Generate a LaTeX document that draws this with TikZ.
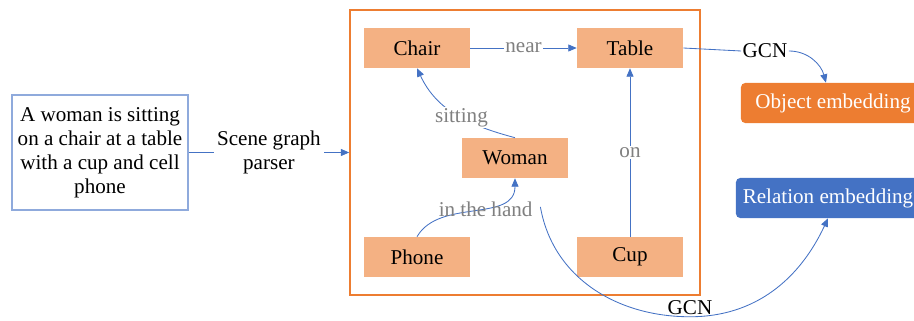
\documentclass[tikz,border=0pt]{standalone}
\usepackage{fontspec}
\setmainfont{Liberation Serif}
\usetikzlibrary{arrows.meta}

\definecolor{objfill}{HTML}{F4B183}
\definecolor{frameorange}{HTML}{ED7D31}
\definecolor{linkblue}{HTML}{4472C4}
\definecolor{boxblue}{HTML}{8FAADC}
\definecolor{relgray}{HTML}{808080}

\begin{document}
\begin{tikzpicture}[x=0.025cm, y=0.025cm, >={Triangle[length=6pt,width=5pt]},
  font=\fontsize{15}{17}\selectfont,
  obj/.style={fill=objfill, minimum width=2.65cm, minimum height=1cm},
  rel/.style={text=relgray, fill=white, inner sep=1pt},
  link/.style={draw=linkblue, line width=0.6pt},
  embed/.style={rounded corners=3pt, text=white, minimum width=4.6cm, minimum height=1cm}]
  \useasboundingbox (0,0) rectangle (914,321);

  % input sentence and the parser step
  \node[draw=boxblue, line width=0.8pt, align=center, minimum width=4.4cm, minimum height=2.875cm] (sentence) at (100,168.5) {A woman is sitting\\on a chair at a table\\with a cup and cell\\phone};
  \node[draw=frameorange, line width=1pt, minimum width=8.75cm, minimum height=7.125cm] (graph) at (525,168.5) {};
  \draw[link, ->] (sentence) -- node[fill=white, align=center, inner sep=2pt] (parser) {Scene graph\\parser} (graph);

  % scene graph
  \node[obj] (chair) at (417,273) {Chair};
  \node[obj] (table) at (630,273) {Table};
  \node[obj] (woman) at (515,163) {Woman};
  \node[obj] (phone) at (417,64) {Phone};
  \node[obj] (cup) at (630,64) {Cup};

  \draw[link, ->] (chair) -- node[rel] {near} (table);
  \draw[link, ->] (cup) -- node[rel] {on} (table);
  \draw[link, ->] (woman.north) to[out=165, in=-65] node[rel, pos=0.45] {sitting} (chair.south);
  \draw[link, ->] (phone.north) to[out=60, in=-90] node[text=relgray, pos=0.5, xshift=8pt] (hand) {in the hand} (woman.south);

  % embeddings
  \node[embed, fill=frameorange] (object) at (833,218) {Object embedding};
  \node[embed, fill=linkblue] (relation) at (828,123) {Relation embedding};

  \node[inner sep=1pt] (gcnobj) at (765,270) {GCN};
  \draw[link] (table.east) -- (gcnobj.west);
  \draw[link, ->] (gcnobj.east) to[out=0, in=105] ([xshift=-5]object.north);

  \node[inner sep=1pt] (gcnrel) at (690,13) {GCN};
  \draw[link, ->] ([xshift=2pt,yshift=2pt]hand.east) to[out=-80, in=180] (gcnrel.south) to[out=0, in=-115] (relation.south);
\end{tikzpicture}
\end{document}
